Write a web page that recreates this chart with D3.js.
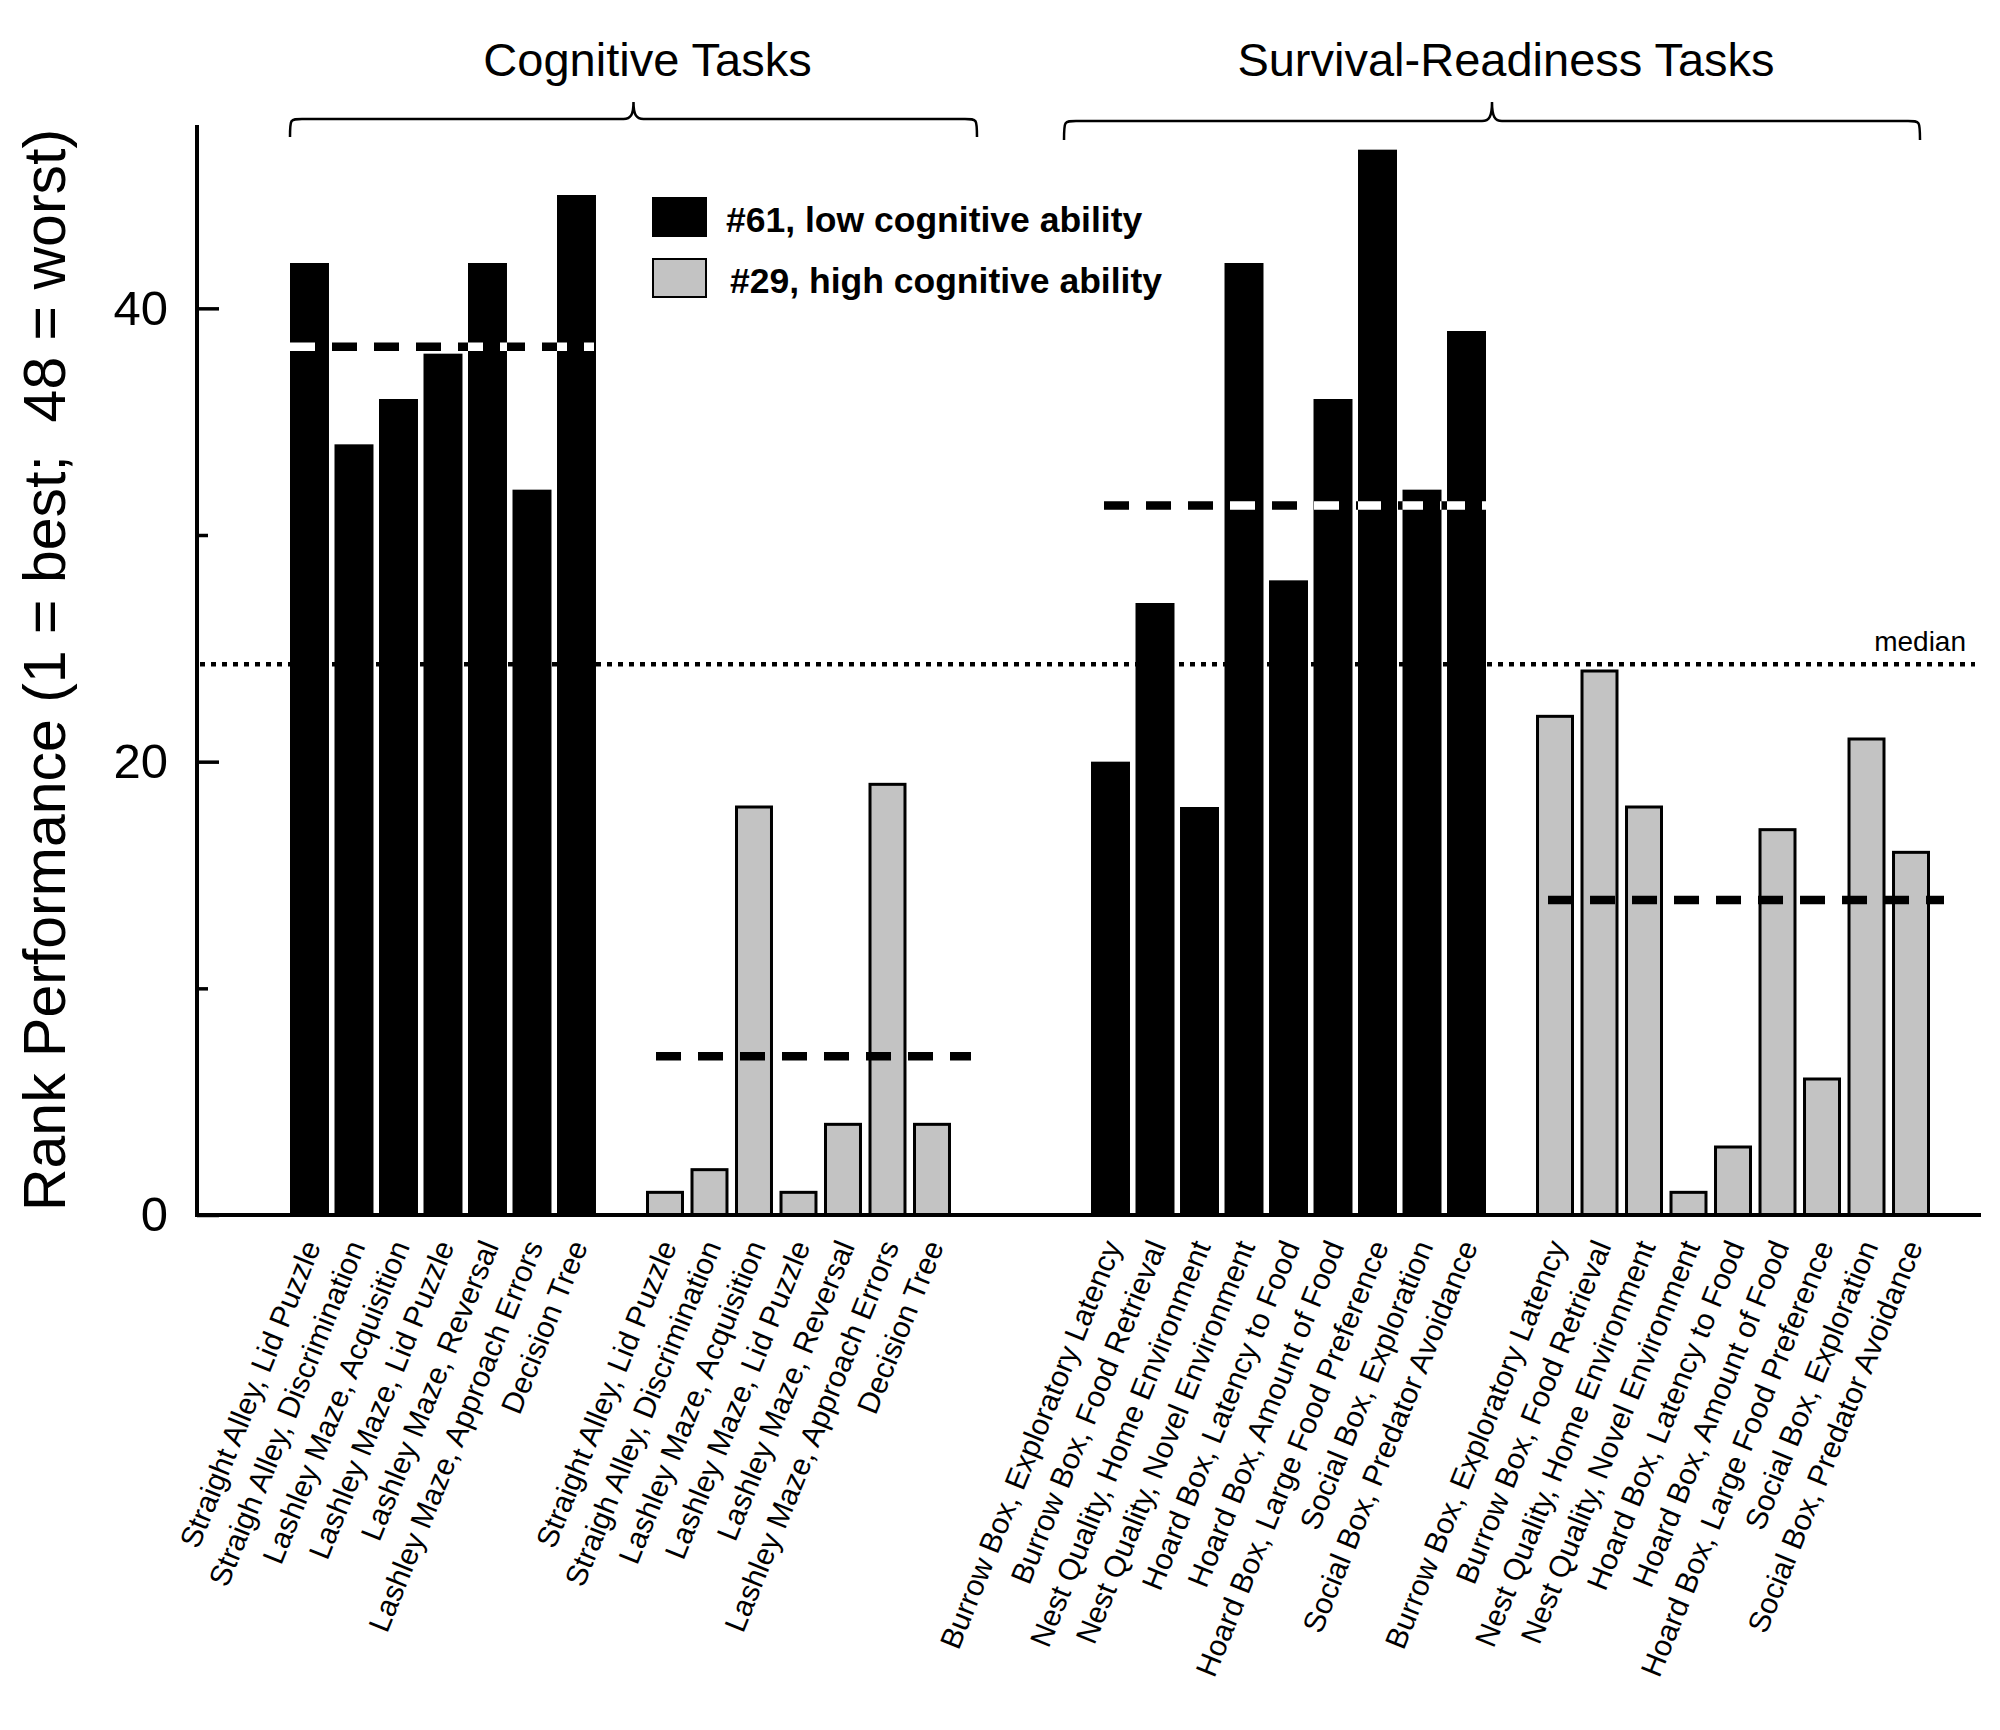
<!DOCTYPE html>
<html>
<head>
<meta charset="utf-8">
<script src="https://cdn.jsdelivr.net/npm/d3@7/dist/d3.min.js"></script>
<style>
  html, body { margin: 0; padding: 0; background: #fff; }
  svg { display: block; font-family: "Liberation Sans", Arial, Helvetica, sans-serif; }
</style>
</head>
<body>
<svg id="chart" width="2000" height="1730"></svg>
<script>
// ---------------- DATA ----------------
const cognitiveTasks = [
  "Straight Alley, Lid Puzzle",
  "Straigh Alley, Discrimination",
  "Lashley Maze, Acquisition",
  "Lashley Maze, Lid Puzzle",
  "Lashley Maze, Reversal",
  "Lashley Maze, Approach Errors",
  "Decision Tree"
];
const survivalTasks = [
  "Burrow Box, Exploratory Latency",
  "Burrow Box, Food Retrieval",
  "Nest Quality, Home Environment",
  "Nest Quality, Novel Environment",
  "Hoard Box, Latency to Food",
  "Hoard Box, Amount of Food",
  "Hoard Box, Large Food Preference",
  "Social Box, Exploration",
  "Social Box, Predator Avoidance"
];
const cognitive61 = [42, 34, 36, 38, 42, 32, 45];
const cognitive29 = [1, 2, 18, 1, 4, 19, 4];
const survival61 = [20, 27, 18, 42, 28, 36, 47, 32, 39];
const survival29 = [22, 24, 18, 1, 3, 17, 6, 21, 16];
const groupMeans = [38.3, 7.0, 31.3, 13.9];   // dashed lines: cog61, cog29, surv61, surv29
const medianRank = 24.3;
const majorTicks = [0, 20, 40];
const minorTicks = [10, 30];
const seriesNames = ["#61, low cognitive ability", "#29, high cognitive ability"];
const sectionTitles = ["Cognitive Tasks", "Survival-Readiness Tasks"];
const yTitle = "Rank Performance (1 = best;  48 = worst)";

// ---------------- STYLE ----------------
const BLACK = "#000", GRAY = "#c3c3c3";
const meanInset = [[0, -2], [10, 19], [13, 0], [12, 13]]; // [left,right] offsets of dashed lines

// ---------------- BUILD GROUPS ----------------
const groups = [
  { id: "c61", names: cognitiveTasks, values: cognitive61, fill: BLACK },
  { id: "c29", names: cognitiveTasks, values: cognitive29, fill: GRAY },
  { id: "s61", names: survivalTasks, values: survival61, fill: BLACK },
  { id: "s29", names: survivalTasks, values: survival29, fill: GRAY }
];
const spacersAfter = [1, 3, 1, 0];
const slots = [];
const bars = [];
groups.forEach((g, gi) => {
  g.keys = g.names.map((n, i) => g.id + "-" + i);
  g.keys.forEach((k, i) => {
    slots.push(k);
    bars.push({ key: k, name: g.names[i], value: g.values[i], fill: g.fill, group: gi });
  });
  for (let s = 0; s < spacersAfter[gi]; s++) slots.push("gap-" + gi + "-" + s);
});
const nameOf = {};
bars.forEach(b => nameOf[b.key] = b.name);

const svg = d3.select("#chart");

const x = d3.scaleBand().domain(slots).range([290, 1931]).paddingInner(0.124).paddingOuter(0);
const y = d3.scaleLinear().domain([0, 48]).range([1215, 127]);
const bw = x.bandwidth();
const axisX = 197;
const xEnd = x.range()[1] + 50;

// ---------------- CLIP PATHS FOR INVERTED DASHES ----------------
const defs = svg.append("defs");
groups.forEach((g, gi) => {
  if (g.fill !== BLACK) return;
  const cp = defs.append("clipPath").attr("id", "clip-" + g.id);
  cp.selectAll("rect").data(bars.filter(b => b.group === gi)).join("rect")
    .attr("x", d => x(d.key)).attr("width", bw)
    .attr("y", d => y(d.value)).attr("height", d => y(0) - y(d.value));
});

// ---------------- BARS ----------------
svg.append("g").selectAll("rect").data(bars).join("rect")
  .attr("x", d => d.fill === BLACK ? x(d.key) : x(d.key) + 1.5)
  .attr("width", d => d.fill === BLACK ? bw : bw - 4)
  .attr("y", d => y(d.value))
  .attr("height", d => y(0) - y(d.value))
  .attr("fill", d => d.fill)
  .attr("stroke", d => d.fill === BLACK ? "none" : "#000")
  .attr("stroke-width", 3);

// ---------------- MEDIAN DOTTED LINE ----------------
svg.append("line")
  .attr("x1", axisX + 3).attr("x2", xEnd - 6)
  .attr("y1", y(medianRank)).attr("y2", y(medianRank))
  .attr("stroke", "#000").attr("stroke-width", 4.5)
  .attr("stroke-dasharray", "5,6");
svg.append("text")
  .attr("x", xEnd - 15).attr("y", y(medianRank) - 13)
  .attr("text-anchor", "end").attr("font-size", 28)
  .text("median");

// ---------------- MEAN DASHED LINES ----------------
groups.forEach((g, gi) => {
  const x1 = x(g.keys[0]) + meanInset[gi][0];
  const x2 = x(g.keys[g.keys.length - 1]) + bw + meanInset[gi][1];
  const yy = y(groupMeans[gi]);
  svg.append("line")
    .attr("x1", x1).attr("x2", x2).attr("y1", yy).attr("y2", yy)
    .attr("stroke", "#000").attr("stroke-width", 8.5)
    .attr("stroke-dasharray", "25,17");
  if (g.fill === BLACK) {
    svg.append("line")
      .attr("x1", x1).attr("x2", x2).attr("y1", yy).attr("y2", yy)
      .attr("stroke", "#fff").attr("stroke-width", 8.5)
      .attr("stroke-dasharray", "25,17")
      .attr("clip-path", "url(#clip-" + g.id + ")");
  }
});

// ---------------- AXES ----------------
const yAxisG = svg.append("g").attr("transform", `translate(${axisX},0)`)
  .call(d3.axisLeft(y).tickValues(majorTicks).tickSizeInner(-22).tickSizeOuter(0).tickPadding(29).tickFormat(d3.format("d")));
yAxisG.select(".domain").remove();
yAxisG.selectAll(".tick line").attr("stroke", "#000").attr("stroke-width", 3.5);
yAxisG.selectAll(".tick text").attr("font-size", 49).attr("fill", "#000")
  .attr("font-family", "'Liberation Sans', Arial, sans-serif");

const yMinorG = svg.append("g").attr("transform", `translate(${axisX},0)`)
  .call(d3.axisLeft(y).tickValues(minorTicks).tickSizeInner(-11).tickSizeOuter(0).tickFormat(""));
yMinorG.select(".domain").remove();
yMinorG.selectAll(".tick line").attr("stroke", "#000").attr("stroke-width", 3.5);

// axis lines
svg.append("line").attr("x1", axisX).attr("x2", axisX)
  .attr("y1", y(48) - 2).attr("y2", y(0) + 2)
  .attr("stroke", "#000").attr("stroke-width", 4);
svg.append("line").attr("x1", axisX - 2).attr("x2", xEnd)
  .attr("y1", y(0)).attr("y2", y(0))
  .attr("stroke", "#000").attr("stroke-width", 4);

// x axis labels
const xAxisG = svg.append("g").attr("transform", `translate(0,${y(0)})`)
  .call(d3.axisBottom(x).tickSize(0).tickFormat(k => nameOf[k] || ""));
xAxisG.select(".domain").remove();
xAxisG.selectAll(".tick text")
  .attr("y", 0).attr("dy", "0.35em")
  .attr("transform", "translate(2,27) rotate(-68)")
  .attr("text-anchor", "end")
  .attr("font-size", 30).attr("fill", "#000")
  .attr("font-family", "'Liberation Sans', Arial, sans-serif");

// y title
svg.append("text")
  .attr("transform", `translate(65,670) rotate(-90)`)
  .attr("text-anchor", "middle").attr("font-size", 59)
  .attr("xml:space", "preserve")
  .style("white-space", "pre")
  .text(yTitle);

// ---------------- BRACES & SECTION TITLES ----------------
function bracePath(x0, x1, yLine, yEnd, yTop) {
  const xm = (x0 + x1) / 2;
  return `M${x0},${yEnd} C${x0},${yLine} ${x0},${yLine} ${x0 + 12},${yLine}` +
    ` L${xm - 10},${yLine} C${xm - 3},${yLine} ${xm},${yLine - 4} ${xm},${yTop}` +
    ` C${xm},${yLine - 4} ${xm + 3},${yLine} ${xm + 10},${yLine}` +
    ` L${x1 - 12},${yLine} C${x1},${yLine} ${x1},${yLine} ${x1},${yEnd}`;
}
const braces = [
  { x0: x(groups[0].keys[0]), x1: x(groups[1].keys[6]) + bw + 25, yLine: 119, yEnd: 137, yTop: 102 },
  { x0: x(groups[2].keys[0]) - 27, x1: x(groups[3].keys[8]) + bw - 11, yLine: 121, yEnd: 140, yTop: 102 }
];
braces.forEach((b, i) => {
  svg.append("path").attr("d", bracePath(b.x0, b.x1, b.yLine, b.yEnd, b.yTop))
    .attr("fill", "none").attr("stroke", "#000").attr("stroke-width", 2.5);
  svg.append("text").attr("x", (b.x0 + b.x1) / 2 + 14).attr("y", 76)
    .attr("text-anchor", "middle").attr("font-size", 47)
    .text(sectionTitles[i]);
});

// ---------------- LEGEND ----------------
const legend = svg.append("g");
const legendItems = [
  { name: seriesNames[0], fill: BLACK, y: 198, tx: 726 },
  { name: seriesNames[1], fill: GRAY, y: 259, tx: 730 }
];
legendItems.forEach(it => {
  legend.append("rect").attr("x", 653).attr("y", it.y).attr("width", 53).attr("height", 38)
    .attr("fill", it.fill).attr("stroke", "#000").attr("stroke-width", 2);
  legend.append("text").attr("x", it.tx).attr("y", it.y + 34)
    .attr("font-size", 35.5).attr("font-weight", "bold").text(it.name);
});
</script>
</body>
</html>
